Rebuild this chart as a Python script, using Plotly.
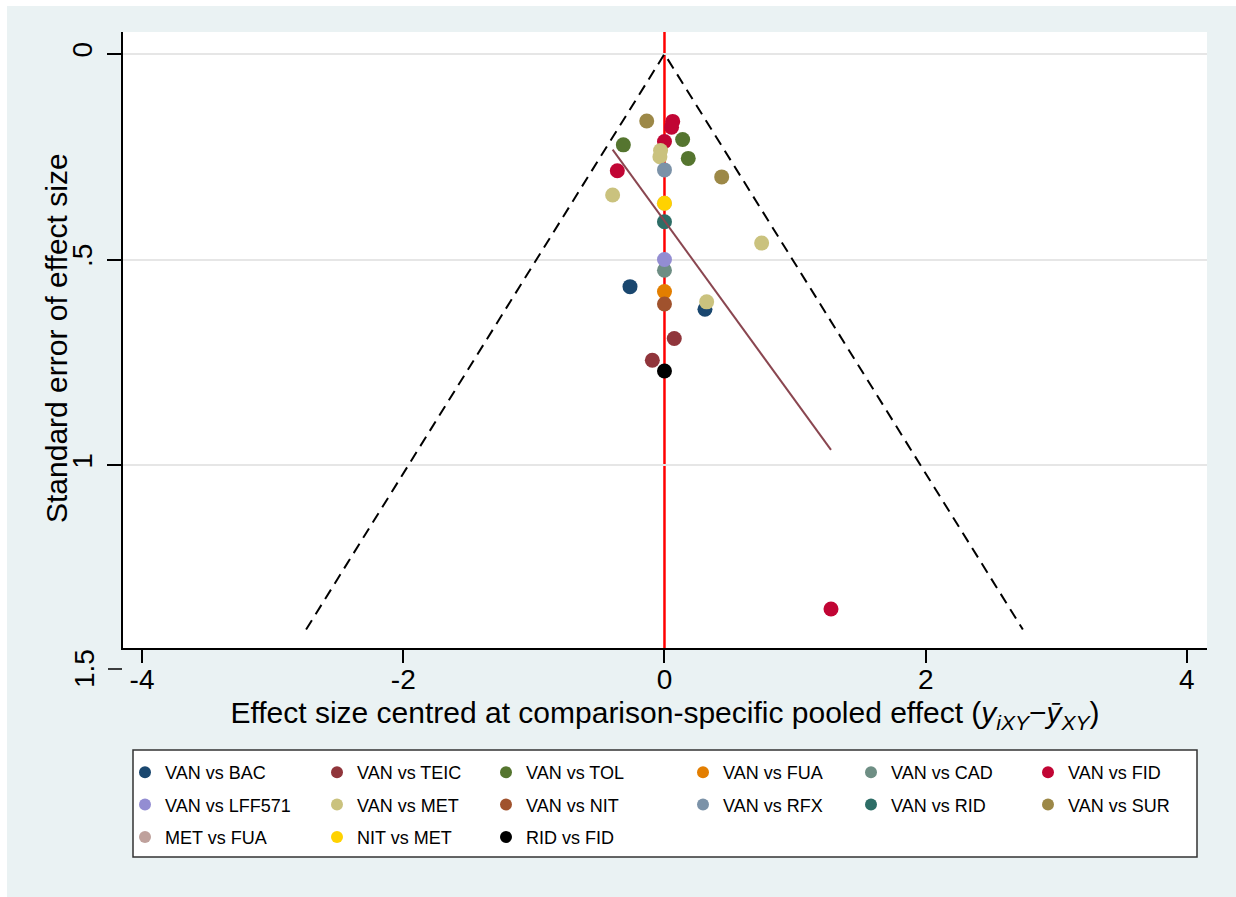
import plotly.graph_objects as go

# ---------------- data ----------------
series_names = ["VAN vs BAC", "VAN vs TEIC", "VAN vs TOL", "VAN vs FUA", "VAN vs CAD", "VAN vs FID",
                "VAN vs LFF571", "VAN vs MET", "VAN vs NIT", "VAN vs RFX", "VAN vs RID", "VAN vs SUR",
                "MET vs FUA", "NIT vs MET", "RID vs FID"]
series_colors = ["#1a476f", "#90353b", "#55752f", "#e37e00", "#6e8e84", "#c10534",
                 "#938dd2", "#cac27e", "#a0522d", "#7b92a8", "#2d6d66", "#9c8847",
                 "#bfa19c", "#ffd200", "#000000"]

bac_x = [-0.264, 0.31]
bac_se = [0.566, 0.621]
teic_x = [0.075, -0.093]
teic_se = [0.692, 0.745]
tol_x = [-0.315, 0.139, 0.182]
tol_se = [0.221, 0.208, 0.254]
fua_x = [0.0]
fua_se = [0.578]
cad_x = [0.0]
cad_se = [0.526]
fid_x = [0.063, 0.054, 0.0, -0.361, 1.275]
fid_se = [0.164, 0.178, 0.213, 0.284, 1.35]
lff_x = [0.0]
lff_se = [0.5]
met_x = [-0.03, -0.035, -0.397, 0.744, 0.323]
met_se = [0.235, 0.25, 0.343, 0.46, 0.603]
nit_x = [0.0]
nit_se = [0.608]
rfx_x = [0.0]
rfx_se = [0.282]
rid_x = [0.0]
rid_se = [0.408]
sur_x = [-0.136, 0.438]
sur_se = [0.163, 0.299]
metfua_x = [0.0]
metfua_se = [0.363]
nitmet_x = [0.0]
nitmet_se = [0.363]
ridfid_x = [0.0]
ridfid_se = [0.771]

series_x = [bac_x, teic_x, tol_x, fua_x, cad_x, fid_x, lff_x, met_x, nit_x, rfx_x, rid_x, sur_x,
            metfua_x, nitmet_x, ridfid_x]
series_se = [bac_se, teic_se, tol_se, fua_se, cad_se, fid_se, lff_se, met_se, nit_se, rfx_se, rid_se, sur_se,
             metfua_se, nitmet_se, ridfid_se]

# fitted line (SE on centred effect) and funnel limits
fit_intercept = 0.406
fit_slope = 0.437
funnel_se_max = 1.4
funnel_z = 1.96

x_ticks = [-4, -2, 0, 2, 4]
x_ticktext = ["-4", "-2", "0", "2", "4"]
y_ticks = [0, 0.5, 1]
y_ticktext = ["0", ".5", "1"]

# ---------------- figure ----------------
W, H = 1236, 897
ML, MR, MT, MB = 123, 29, 32, 249
PW, PH = W - ML - MR, H - MT - MB


def px2paper_x(px):
    return (px - ML) / PW


def px2paper_y(py):
    return (H - MB - py) / PH


FONT = "Liberation Sans, Arial, sans-serif"
fig = go.Figure()

col_marker_px = [150, 342, 511, 708, 876, 1053]

for i, (nm, xs, ses, col) in enumerate(zip(series_names, series_x, series_se, series_colors)):
    c = i % 6
    lg = "legend" if c == 0 else f"legend{c + 1}"
    fig.add_trace(go.Scatter(
        x=xs, y=ses, mode="markers", name=nm,
        marker=dict(color=col, size=15, line=dict(width=0)),
        legend=lg, legendgroup=nm,
    ))

# funnel (pseudo 95% limits)
fig.add_trace(go.Scatter(
    x=[-funnel_z * funnel_se_max, 0, funnel_z * funnel_se_max],
    y=[funnel_se_max, 0, funnel_se_max],
    mode="lines", line=dict(color="black", width=2, dash="11px,7px"),
    showlegend=False, hoverinfo="skip"))

# fitted line over range of observed effects
all_x = [v for xs in series_x for v in xs]
xmin, xmax = min(all_x), max(all_x)
fig.add_trace(go.Scatter(
    x=[xmin, xmax], y=[fit_intercept + fit_slope * xmin, fit_intercept + fit_slope * xmax],
    mode="lines", line=dict(color="#8a4650", width=2),
    showlegend=False, hoverinfo="skip"))

# red reference line at 0
fig.add_shape(type="line", x0=0, x1=0, xref="x", y0=0, y1=1, yref="paper",
              line=dict(color="red", width=2.5), layer="below")

# white outer strips (left / top) of the image
fig.add_shape(type="rect", xref="paper", yref="paper",
              x0=px2paper_x(0), x1=px2paper_x(7), y0=px2paper_y(H), y1=px2paper_y(0),
              fillcolor="white", line=dict(width=0), layer="above")
fig.add_shape(type="rect", xref="paper", yref="paper",
              x0=px2paper_x(0), x1=px2paper_x(W), y0=px2paper_y(6), y1=px2paper_y(0),
              fillcolor="white", line=dict(width=0), layer="above")

# legend box
fig.add_shape(type="rect", xref="paper", yref="paper",
              x0=px2paper_x(133), x1=px2paper_x(1197), y0=px2paper_y(857), y1=px2paper_y(750),
              fillcolor="white", line=dict(color="#333333", width=1.5), layer="below")

# "1.5" tick beyond the plot region
fig.add_shape(type="line", xref="paper", yref="paper",
              x0=px2paper_x(108), x1=px2paper_x(122), y0=px2paper_y(669), y1=px2paper_y(669),
              line=dict(color="black", width=1.5))
fig.add_annotation(text="1.5", xref="paper", yref="paper", x=px2paper_x(84), y=px2paper_y(669),
                   showarrow=False, textangle=-90, font=dict(family=FONT, size=28, color="black"),
                   xanchor="center", yanchor="middle")

# y axis title
fig.add_annotation(text="Standard error of effect size", xref="paper", yref="paper",
                   x=px2paper_x(56), y=px2paper_y(338), showarrow=False, textangle=-90,
                   font=dict(family=FONT, size=30, color="black"),
                   xanchor="center", yanchor="middle")

legend_common = dict(orientation="v", bgcolor="rgba(0,0,0,0)", borderwidth=0,
                     font=dict(family=FONT, size=18, color="black"),
                     traceorder="grouped", tracegroupgap=6, itemsizing="constant",
                     xanchor="left", yanchor="top", y=px2paper_y(754))
legends = {}
for c in range(6):
    key = "legend" if c == 0 else f"legend{c + 1}"
    legends[key] = dict(legend_common, x=px2paper_x(col_marker_px[c] - 25))

fig.update_layout(
    width=W, height=H,
    margin=dict(l=ML, r=MR, t=MT, b=MB, pad=0),
    paper_bgcolor="#eaf2f3",
    plot_bgcolor="white",
    font=dict(family=FONT, color="black"),
    xaxis=dict(range=[-4.146, 4.154], tickvals=x_ticks, ticktext=x_ticktext, ticks="outside",
               ticklen=13, tickwidth=1.5, ticklabelstandoff=-7,
               tickcolor="black", showline=True, linecolor="black", linewidth=1.5,
               showgrid=False, zeroline=False, tickfont=dict(size=28),
               title=dict(text="Effect size centred at comparison-specific pooled effect "
                               "(<i>y<sub>iXY</sub></i>−<i>ȳ<sub>XY</sub></i>)",
                          font=dict(size=30), standoff=8)),
    yaxis=dict(range=[1.445, -0.0535], tickvals=y_ticks, ticktext=y_ticktext, tickangle=-90,
               ticks="outside", ticklen=14, tickwidth=1.5, tickcolor="black", ticklabelstandoff=4,
               showline=True, linecolor="black", linewidth=1.5,
               showgrid=True, gridcolor="#e6e6e6", gridwidth=1.5, zeroline=False,
               tickfont=dict(size=28)),
    **legends,
)

fig.write_html("out.html")
